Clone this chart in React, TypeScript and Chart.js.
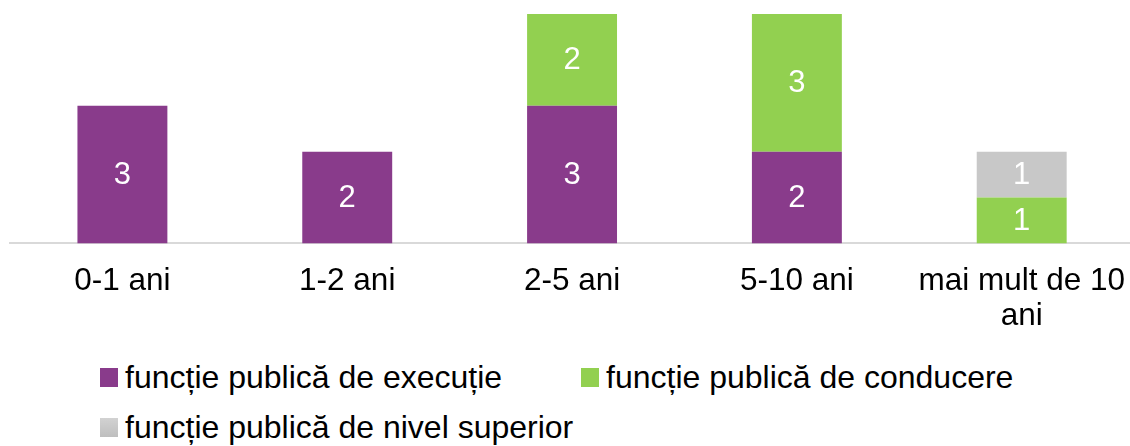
import React, { useEffect, useRef } from "react";
import { Chart, registerables } from "chart.js";

Chart.register(...registerables);

const categories: (string | string[])[] = ["0-1 ani", "1-2 ani", "2-5 ani", "5-10 ani", ["mai mult de 10", "ani"]];
const executie = [3, 2, 3, 2, 0];
const conducere = [0, 0, 2, 3, 1];
const superior = [0, 0, 0, 0, 1];
const seriesNames = [
  "funcție publică de execuție",
  "funcție publică de conducere",
  "funcție publică de nivel superior",
];
const colors = ["#893B8B", "#92D050", "#C8C8C8"];

const FONT = "'Liberation Sans', Arial, sans-serif";

const valueLabels = {
  id: "valueLabels",
  afterDatasetsDraw(chart: any) {
    const ctx = chart.ctx;
    ctx.save();
    ctx.fillStyle = "#ffffff";
    ctx.font = `31px ${FONT}`;
    ctx.textAlign = "center";
    ctx.textBaseline = "middle";
    chart.data.datasets.forEach((ds: any, di: number) => {
      const meta = chart.getDatasetMeta(di);
      meta.data.forEach((bar: any, i: number) => {
        const v = ds.data[i];
        if (!v) return;
        const y = (bar.y + bar.base) / 2;
        ctx.fillText(String(v), bar.x, y + 1);
      });
    });
    ctx.restore();
  },
};

export default function App() {
  const ref = useRef<HTMLCanvasElement>(null);
  useEffect(() => {
    if (!ref.current) return;
    const grayFill = (c: any) => {
      const chart = c.chart;
      const area = chart.chartArea;
      if (!area) return colors[2];
      const el = c.element;
      if (!el || el.y === undefined) return colors[2];
      const g = chart.ctx.createLinearGradient(0, el.y, 0, el.base);
      g.addColorStop(0, "#D2D2D2");
      g.addColorStop(1, "#BEBEBE");
      return g;
    };
    const chart = new Chart(ref.current, {
      type: "bar",
      data: {
        labels: categories as any,
        datasets: [
          { label: seriesNames[0], data: executie, backgroundColor: colors[0] },
          { label: seriesNames[1], data: conducere, backgroundColor: colors[1] },
          { label: seriesNames[2], data: superior, backgroundColor: grayFill as any },
        ],
      },
      options: {
        animation: false,
        responsive: false,
        maintainAspectRatio: false,
        layout: { padding: { left: 10, right: 0, top: 14, bottom: 0 } },
        plugins: { legend: { display: false }, tooltip: { enabled: false } },
        datasets: { bar: { categoryPercentage: 1, barPercentage: 0.4, borderWidth: 0 } },
        scales: {
          x: {
            stacked: true,
            grid: { display: false },
            border: { display: true, color: "#D9D9D9", width: 2 },
            ticks: {
              color: "#000000",
              font: { size: 31.5, family: FONT, lineHeight: 1.12 },
              padding: 12,
              maxRotation: 0,
              autoSkip: false,
            },
          },
          y: {
            stacked: true,
            display: false,
            min: 0,
            max: 5,
          },
        },
      },
      plugins: [valueLabels],
    });
    return () => chart.destroy();
  }, []);

  const legendItems = [
    { left: 100, top: 377, name: seriesNames[0], color: colors[0] },
    { left: 581, top: 377, name: seriesNames[1], color: colors[1] },
    { left: 100, top: 427, name: seriesNames[2], color: "linear-gradient(#D2D2D2, #BEBEBE)" },
  ];

  return (
    <div style={{ position: "fixed", left: 0, top: 0, width: 1130, height: 446, background: "#fff", overflow: "hidden" }}>
      <canvas ref={ref} width={1137} height={346} style={{ position: "absolute", left: 0, top: 0, width: 1137, height: 346 }} />
      {legendItems.map((it) => (
        <div
          key={it.name}
          style={{
            position: "absolute",
            left: it.left,
            top: it.top,
            transform: "translateY(-50%)",
            display: "flex",
            alignItems: "center",
            fontFamily: FONT,
            fontSize: 32,
            lineHeight: "36px",
            color: "#000",
            whiteSpace: "nowrap",
          }}
        >
          <span style={{ display: "inline-block", width: 18, height: 19, background: it.color, marginRight: 7 }} />
          <span>{it.name}</span>
        </div>
      ))}
    </div>
  );
}
